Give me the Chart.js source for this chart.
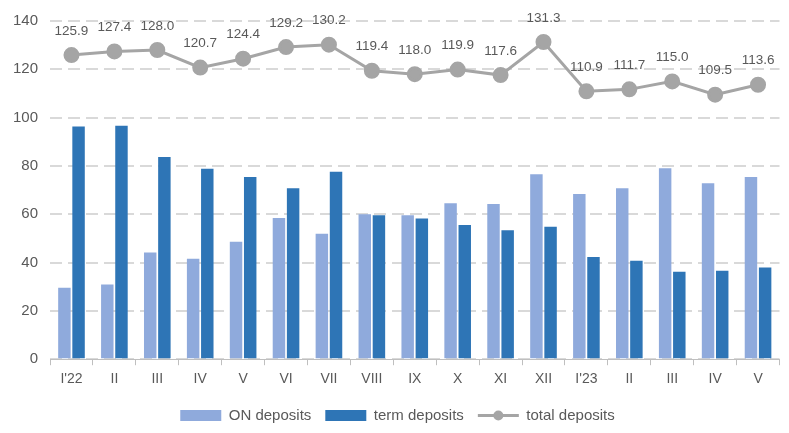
<!DOCTYPE html>
<html>
<head>
<meta charset="utf-8">
<script src="https://cdn.jsdelivr.net/npm/chart.js@4"></script>
<style>
  html, body { margin: 0; padding: 0; background: #fff; }
  #wrap { width: 789px; height: 433px; }
</style>
</head>
<body>
<div id="wrap"><canvas id="deposits-chart"></canvas></div>
<script>
'use strict';

const months = ["I'22", 'II', 'III', 'IV', 'V', 'VI', 'VII', 'VIII', 'IX', 'X', 'XI', 'XII', "I'23", 'II', 'III', 'IV', 'V'];
const onDeposits = [29.6, 30.9, 44.2, 41.6, 48.6, 58.4, 51.9, 60.0, 59.6, 64.6, 64.2, 76.6, 68.4, 70.8, 79.0, 72.8, 75.4];
const termDeposits = [96.3, 96.6, 83.7, 78.8, 75.4, 70.8, 77.6, 59.6, 58.2, 55.6, 53.4, 54.8, 42.3, 40.8, 36.2, 36.6, 38.0];
const totalDeposits = [125.9, 127.4, 128.0, 120.7, 124.4, 129.2, 130.2, 119.4, 118.0, 119.9, 117.6, 131.3, 110.9, 111.7, 115.0, 109.5, 113.6];

const FONT = "'Liberation Sans', Arial, sans-serif";
const GREY = '#A5A5A5';

// value labels above the total line + line/dot marker in the legend
const totalLabels = {
    id: 'total_labels',
    afterDatasetsDraw: (chart) => {
        const ctx = chart.ctx;
        const meta = chart.getDatasetMeta(0);
        ctx.save();
        ctx.font = '13.5px ' + FONT;
        ctx.fillStyle = '#595959';
        ctx.textAlign = 'center';
        ctx.textBaseline = 'middle';
        meta.data.forEach((pt, i) => {
            ctx.fillText(totalDeposits[i].toFixed(1), pt.x, pt.y - 24);
        });
        ctx.restore();
    },
    afterDraw: (chart) => {
        const legend = chart.legend;
        if (!legend || !legend.legendHitBoxes) return;
        const box = legend.legendHitBoxes[2];
        const ctx = chart.ctx;
        const bw = legend.options.labels.boxWidth;
        const cy = box.top + box.height / 2;
        ctx.save();
        ctx.strokeStyle = GREY;
        ctx.lineWidth = 3;
        ctx.beginPath();
        ctx.moveTo(box.left, cy);
        ctx.lineTo(box.left + bw, cy);
        ctx.stroke();
        ctx.fillStyle = GREY;
        ctx.beginPath();
        ctx.arc(box.left + bw / 2, cy, 5, 0, Math.PI * 2);
        ctx.fill();
        ctx.restore();
    }
};

const ctx = document.getElementById('deposits-chart');
const depositsChart = new Chart(ctx, {
    type: 'bar',
    data: {
        labels: months,
        datasets: [
            {
                type: 'line',
                label: 'total deposits',
                data: totalDeposits,
                borderColor: GREY,
                backgroundColor: GREY,
                borderWidth: 3,
                pointRadius: 6.5,
                pointHoverRadius: 6.5,
                tension: 0,
                order: 0
            },
            {
                label: 'ON deposits',
                data: onDeposits,
                backgroundColor: '#8FAADC',
                order: 1
            },
            {
                label: 'term deposits',
                data: termDeposits,
                backgroundColor: '#2E75B6',
                order: 1
            }
        ]
    },
    options: {
        responsive: true,
        maintainAspectRatio: false,
        animation: false,
        layout: { padding: { left: 1, right: -5, top: 8, bottom: 0 } },
        datasets: {
            bar: { barPercentage: 0.88, categoryPercentage: 0.66 }
        },
        scales: {
            x: {
                grid: {
                    display: true,
                    drawOnChartArea: false,
                    drawTicks: true,
                    tickLength: 6,
                    color: '#BFBFBF',
                    offset: true
                },
                border: { color: '#BFBFBF', width: 1 },
                ticks: {
                    color: '#595959',
                    font: { family: FONT, size: 14 },
                    padding: 6,
                    maxRotation: 0,
                    autoSkip: false
                }
            },
            y: {
                min: 0,
                max: 140,
                ticks: {
                    stepSize: 20,
                    color: '#595959',
                    font: { family: FONT, size: 15 },
                    padding: 12
                },
                grid: {
                    color: '#D9D9D9',
                    lineWidth: 2,
                    drawTicks: false
                },
                border: { display: false, dash: [12, 6] }
            }
        },
        plugins: {
            legend: {
                position: 'bottom',
                labels: {
                    color: '#595959',
                    font: { family: FONT, size: 15 },
                    boxWidth: 41,
                    boxHeight: 11,
                    padding: 14,
                    generateLabels: (chart) => {
                        const order = [1, 2, 0];
                        return order.map((i) => {
                            const ds = chart.data.datasets[i];
                            const isLine = ds.type === 'line';
                            return {
                                text: ds.label,
                                fillStyle: isLine ? 'rgba(0,0,0,0)' : ds.backgroundColor,
                                strokeStyle: 'rgba(0,0,0,0)',
                                lineWidth: 0,
                                datasetIndex: i,
                                fontColor: '#595959',
                                hidden: false
                            };
                        });
                    }
                }
            },
            tooltip: { enabled: false }
        }
    },
    plugins: [totalLabels]
});
</script>
</body>
</html>
